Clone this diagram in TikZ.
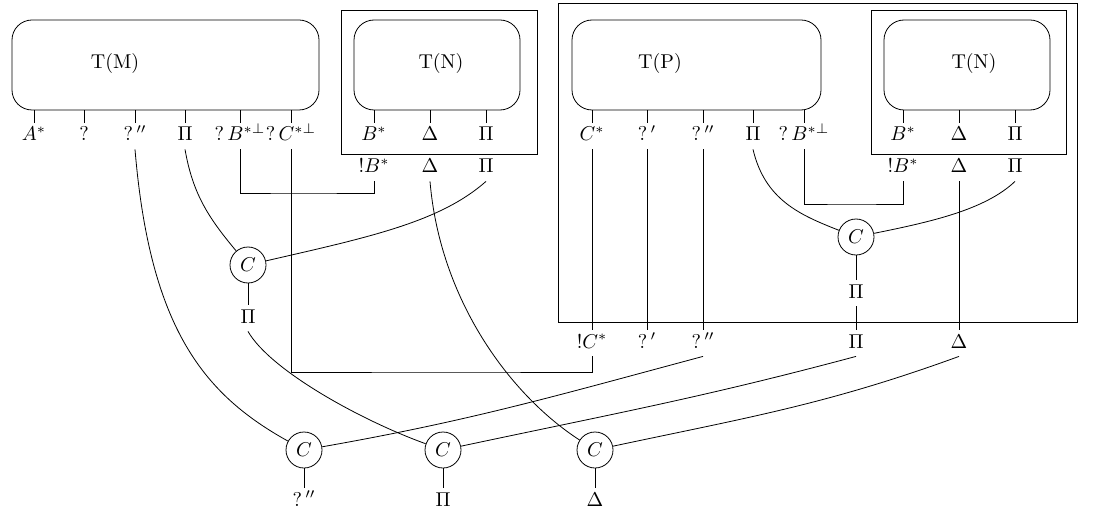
\documentclass[tikz,border=0pt]{standalone}
\usepackage{amsmath, amssymb}
\usetikzlibrary{calc, positioning}

\begin{document}
\begin{tikzpicture}[x=0.5pt, y=0.5pt,
    term box/.style={draw, rounded corners=10pt, minimum width=#1, minimum height=45pt, inner sep=0pt},
    wire label/.style={inner sep=0pt, minimum height=13pt, text height=7pt, text depth=2pt},
    contraction/.style={draw, circle, inner sep=0pt, minimum size=18pt}]
    \useasboundingbox (0,0) rectangle (1095,-518);

    % the boxes
    \node[term box=153.5pt] (tm) at (165.5,-65) {};
    \node (tmname) at (115,-64) {T(M)};
    \node[term box=83pt] (tn) at (437,-65) {};
    \node (tnname) at (441,-64) {T(N)};
    \node[term box=124.5pt] (tp) at (696.5,-65) {};
    \node (tpname) at (660,-64) {T(P)};
    \node[term box=83pt] (tk) at (967,-65) {};
    \node (tkname) at (974,-64) {T(N)};

    \draw (341,-10) rectangle (537,-154);
    \draw (558,-3) rectangle (1077,-322);
    \draw (871,-10) rectangle (1066,-154);

    % conclusions of T(M)
    \node[wire label] (ma) at (34,-136) {$A^*$};
    \node[wire label] (mq) at (84,-136) {$?$};
    \node[wire label] (mqq) at (135,-136) {$?\,''$};
    \node[wire label] (mpi) at (185,-136) {$\Pi$};
    \node[wire label] (mqb) at (240,-136) {$?\,B^{*\perp}$};
    \node[wire label] (mqc) at (291,-136) {$?\,C^{*\perp}$};

    % conclusions of the first T(N)
    \node[wire label] (nb) at (374,-136) {$B^*$};
    \node[wire label] (nd) at (430,-136) {$\Delta$};
    \node[wire label] (np) at (486,-136) {$\Pi$};
    \node[wire label] (nbo) at (374,-168) {$!B^*$};
    \node[wire label] (ndo) at (430,-168) {$\Delta$};
    \node[wire label] (npo) at (486,-168) {$\Pi$};

    % conclusions of T(P)
    \node[wire label] (pc) at (592,-136) {$C^*$};
    \node[wire label] (pq1) at (647,-136) {$?\,'$};
    \node[wire label] (pq2) at (703,-136) {$?\,''$};
    \node[wire label] (ppi) at (753,-136) {$\Pi$};
    \node[wire label] (pqb) at (804,-136) {$?\,B^{*\perp}$};

    % conclusions of the second T(N)
    \node[wire label] (kb) at (903,-136) {$B^*$};
    \node[wire label] (kd) at (959,-136) {$\Delta$};
    \node[wire label] (kp) at (1015,-136) {$\Pi$};
    \node[wire label] (kbo) at (903,-168) {$!B^*$};
    \node[wire label] (kdo) at (959,-168) {$\Delta$};
    \node[wire label] (kpo) at (1015,-168) {$\Pi$};

    % contractions
    \node[contraction] (cm) at (248,-265) {$C$};
    \node[wire label] (cml) at (248,-318) {$\Pi$};
    \node[contraction] (cp) at (856,-237) {$C$};
    \node[wire label] (cpl) at (856,-293) {$\Pi$};

    % conclusions of the big box
    \node[wire label] (oc) at (592,-343) {$!C^*$};
    \node[wire label] (oq1) at (647,-343) {$?\,'$};
    \node[wire label] (oq2) at (703,-343) {$?\,''$};
    \node[wire label] (opi) at (856,-343) {$\Pi$};
    \node[wire label] (od) at (959,-343) {$\Delta$};

    \node[contraction] (c1) at (304,-450) {$C$};
    \node[contraction] (c2) at (443,-450) {$C$};
    \node[contraction] (c3) at (595,-450) {$C$};
    \node[wire label] (r1) at (304,-501) {$?\,''$};
    \node[wire label] (r2) at (443,-501) {$\Pi$};
    \node[wire label] (r3) at (595,-501) {$\Delta$};

    \coordinate (bendb) at (300,-193);
    \coordinate (bendc) at (450,-372);
    \coordinate (bendp) at (850,-204);

    % ticks
    \draw (ma.north |- tm.south) -- (ma.north);
    \draw (mq.north |- tm.south) -- (mq.north);
    \draw (mqq.north |- tm.south) -- (mqq.north);
    \draw (mpi.north |- tm.south) -- (mpi.north);
    \draw (mqb.north |- tm.south) -- (mqb.north);
    \draw (mqc.north |- tm.south) -- (mqc.north);
    \draw (nb.north |- tn.south) -- (nb.north);
    \draw (nd.north |- tn.south) -- (nd.north);
    \draw (np.north |- tn.south) -- (np.north);
    \draw (pc.north |- tp.south) -- (pc.north);
    \draw (pq1.north |- tp.south) -- (pq1.north);
    \draw (pq2.north |- tp.south) -- (pq2.north);
    \draw (ppi.north |- tp.south) -- (ppi.north);
    \draw (pqb.north |- tp.south) -- (pqb.north);
    \draw (kb.north |- tk.south) -- (kb.north);
    \draw (kd.north |- tk.south) -- (kd.north);
    \draw (kp.north |- tk.south) -- (kp.north);

    % wires
    \draw (mqq.south) .. controls (150,-330) and (205,-395) .. (c1);
    \draw (mpi.south) to[out=-80, in=130] (cm);
    \draw (mqb.south) |- (bendb) -| (nbo.south);
    \draw (mqc.south) |- (bendc) -| (oc.south);
    \draw (npo.south) .. controls (440,-222) and (370,-237) .. (cm);
    \draw (ndo.south) .. controls (440,-300) and (510,-395) .. (c3);
    \draw (cm) -- (cml);
    \draw (cml.south) .. controls (270,-370) and (360,-420) .. (c2);

    \draw (pc) -- (oc);
    \draw (pq1) -- (oq1);
    \draw (pq2) -- (oq2);
    \draw (ppi.south) .. controls (765,-200) and (800,-215) .. (cp);
    \draw (pqb.south) |- (bendp) -| (kbo.south);
    \draw (kdo) -- (od);
    \draw (kpo.south) .. controls (985,-210) and (930,-222) .. (cp);
    \draw (cp) -- (cpl);
    \draw (cpl) -- (opi);

    \draw (oq2.south) to[out=195, in=10] (c1);
    \draw (opi.south) to[out=195, in=12] (c2);
    \draw (od.south) to[out=200, in=12] (c3);
    \draw (c1) -- (r1);
    \draw (c2) -- (r2);
    \draw (c3) -- (r3);
\end{tikzpicture}
\end{document}
